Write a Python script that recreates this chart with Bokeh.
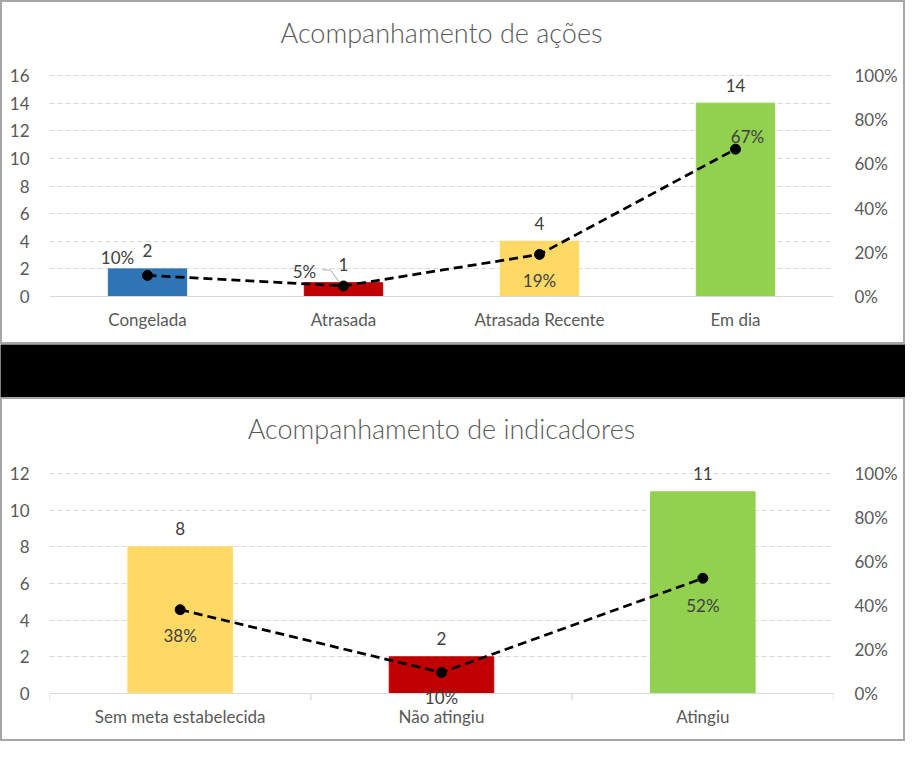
from bokeh.plotting import figure
from bokeh.models import (Range1d, LinearAxis, FixedTicker, NumeralTickFormatter,
                          Label, ColumnDataSource, Span)
from bokeh.layouts import column
from bokeh.embed import file_html
from bokeh.resources import INLINE

# ---------------- data ----------------
acoes_titulo = "Acompanhamento de ações"
acoes_cats = ["Congelada", "Atrasada", "Atrasada Recente", "Em dia"]
acoes_vals = [2, 1, 4, 14]
acoes_pct = [0.0952, 0.0476, 0.1905, 0.6667]
acoes_cores = ["#2E75B6", "#C00000", "#FFD966", "#92D050"]
acoes_yticks = [0, 2, 4, 6, 8, 10, 12, 14, 16]

ind_titulo = "Acompanhamento de indicadores"
ind_cats = ["Sem meta estabelecida", "Não atingiu", "Atingiu"]
ind_vals = [8, 2, 11]
ind_pct = [0.381, 0.0952, 0.5238]
ind_cores = ["#FFD966", "#C00000", "#92D050"]
ind_yticks = [0, 2, 4, 6, 8, 10, 12]

pct_ticks = [0, 0.2, 0.4, 0.6, 0.8, 1.0]

FONT = "Lato"
TITLE_FONT = "Lato Light"
TXT = "#595959"
LBL = "#404040"
GRID = "#D9D9D9"

W, H = 901, 340
PAD_T = 22        # extra frame space above the top tick (px)
PAD_B = 14        # extra frame space below zero (px)
BL, BR = 47, 70   # left/right borders


def make_chart(title, cats, vals, pct, cores, yticks, pct_offsets, boundary_ticks,
               top_border, bottom_border, title_standoff, leader_idx=None):
    n = len(cats)
    centers = [i + 0.5 for i in range(n)]
    ymax = yticks[-1]
    plot_h = H - top_border - bottom_border      # 0 .. ymax in pixels
    ppu = plot_h / ymax                           # px per count unit
    ppp = plot_h                                  # px per 100 %
    pxu = (W - BL - BR) / n                       # px per category

    p = figure(width=W, height=H, output_backend="svg", toolbar_location=None,
               x_range=Range1d(0, n),
               y_range=Range1d(-PAD_B / ppu, ymax + PAD_T / ppu),
               min_border_left=BL, min_border_right=BR,
               min_border_top=top_border - PAD_T,
               min_border_bottom=bottom_border - PAD_B,
               styles={"background-color": "white"})
    p.extra_y_ranges = {"pct": Range1d(-PAD_B / ppp, 1 + PAD_T / ppp)}
    p.outline_line_color = None
    p.background_fill_color = "white"
    p.border_fill_color = "white"

    p.title.text = title
    p.title.align = "center"
    p.title.text_font = TITLE_FONT
    p.title.text_font_size = "27px"
    p.title.text_font_style = "normal"
    p.title.text_color = TXT
    p.title.standoff = title_standoff

    # left axis
    ya = p.yaxis[0]
    ya.ticker = FixedTicker(ticks=yticks)
    ya.axis_line_color = None
    ya.major_tick_line_color = None
    ya.minor_tick_line_color = None
    ya.major_label_standoff = 14
    ya.major_label_text_font = FONT
    ya.major_label_text_font_size = "17px"
    ya.major_label_text_color = TXT

    # right axis
    ra = LinearAxis(y_range_name="pct", ticker=FixedTicker(ticks=pct_ticks),
                    formatter=NumeralTickFormatter(format="0%"))
    ra.axis_line_color = None
    ra.major_tick_line_color = None
    ra.minor_tick_line_color = None
    ra.major_label_standoff = 15
    ra.major_label_text_font = FONT
    ra.major_label_text_font_size = "17px"
    ra.major_label_text_color = TXT
    p.add_layout(ra, "right")

    # x axis (labels only; the axis line is drawn at zero)
    xa = p.xaxis[0]
    xa.ticker = FixedTicker(ticks=centers)
    xa.minor_tick_line_color = None
    xa.major_label_overrides = {c: name for c, name in zip(centers, cats)}
    xa.axis_line_color = None
    xa.major_tick_line_color = None
    xa.major_label_standoff = -8
    xa.major_label_text_font = FONT
    xa.major_label_text_font_size = "17px"
    xa.major_label_text_color = TXT

    p.xgrid.grid_line_color = None
    p.ygrid.ticker = FixedTicker(ticks=yticks[1:])
    p.ygrid.grid_line_color = GRID
    p.ygrid.grid_line_dash = "5 3"
    p.ygrid.grid_line_width = 1

    p.add_layout(Span(location=0, dimension="width", line_color=GRID,
                      line_width=1.2))
    if boundary_ticks:
        bx = list(range(n + 1))
        p.segment(x0=bx, x1=bx, y0=[0] * len(bx), y1=[-7 / ppu] * len(bx),
                  line_color=GRID, line_width=1.2)

    src = ColumnDataSource(dict(x=centers, top=vals, color=cores, pct=pct))
    p.vbar(x="x", top="top", width=0.4, color="color", source=src)

    # leader line of a displaced label
    if leader_idx is not None:
        i = leader_idx
        lx = [centers[i] - 21 / pxu, centers[i] - 13 / pxu, centers[i] - 3 / pxu]
        ly = [pct[i] + 16 / ppp, pct[i] + 16 / ppp, pct[i] + 2 / ppp]
        p.line(lx, ly, y_range_name="pct", color="#A6A6A6", line_width=1)

    p.line("x", "pct", source=src, y_range_name="pct", color="black",
           line_width=2.75, line_dash="9 5")
    p.scatter("x", "pct", source=src, y_range_name="pct", size=10,
              color="black")

    for i in range(n):
        p.add_layout(Label(x=centers[i], y=vals[i], text=str(vals[i]),
                           y_offset=18, text_align="center",
                           text_baseline="middle", text_font=FONT,
                           text_font_size="17px", text_color=LBL))
        dx, dy = pct_offsets[i]
        p.add_layout(Label(x=centers[i], y=pct[i], y_range_name="pct",
                           text=f"{round(pct[i] * 100)}%",
                           x_offset=dx, y_offset=dy, text_align="center",
                           text_baseline="middle", text_font=FONT,
                           text_font_size="17px", text_color=LBL))
    return p


top = make_chart(acoes_titulo, acoes_cats, acoes_vals, acoes_pct, acoes_cores,
                 acoes_yticks, [(-30, 18), (-39, 14), (0, -26), (12, 13)],
                 False, 73, 46, 10, leader_idx=1)
bot = make_chart(ind_titulo, ind_cats, ind_vals, ind_pct, ind_cores,
                 ind_yticks, [(0, -26), (0, -25), (0, -27)],
                 True, 74, 46, 14)

top.margin = (2, 2, 2, 2)
bot.margin = (2, 2, 2, 2)
top_wrap = column(top, styles={"background-color": "#A6A6A6"})
bot_wrap = column(bot, styles={"background-color": "#A6A6A6"})

band = figure(width=905, height=53, output_backend="svg", toolbar_location=None,
              min_border=0, x_range=Range1d(0, 1), y_range=Range1d(0, 1))
band.axis.visible = False
band.grid.visible = False
band.outline_line_color = None
band.background_fill_color = "black"
band.border_fill_color = "black"

layout = column(top_wrap, band, bot_wrap, spacing=0)

open("out.html", "w").write(file_html(layout, INLINE))
